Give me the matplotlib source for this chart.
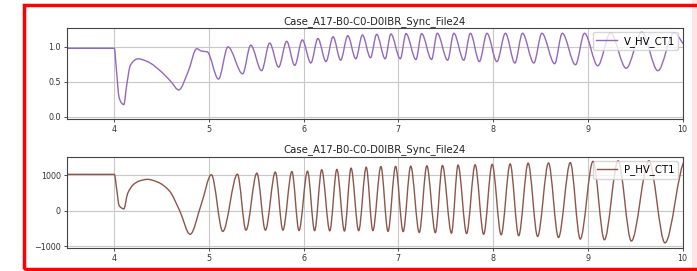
import matplotlib
matplotlib.use('Agg')
import numpy as np
from matplotlib import pyplot as plt
from matplotlib.path import Path
from matplotlib.patches import PathPatch, Rectangle
from matplotlib.lines import Line2D

title = 'Case_A17-B0-C0-D0IBR_Sync_File24'
x_ticks = [4, 5, 6, 7, 8, 9, 10]

# V_HV_CT1 key points (time, value)
v_time = [3.4, 4.0, 4.02, 4.05, 4.075, 4.10, 4.13, 4.17, 4.25, 4.35, 4.5, 4.6, 4.68, 4.78, 4.87, 4.92, 4.98,
          5.10, 5.20, 5.355, 5.44, 5.555, 5.64, 5.735, 5.82, 5.905, 5.985, 6.075, 6.15, 6.235, 6.31,
          6.39, 6.465, 6.55, 6.62, 6.705, 6.77, 6.86, 6.92, 7.02, 7.08, 7.185, 7.245, 7.35, 7.41,
          7.52, 7.585, 7.69, 7.76, 7.855, 7.935, 8.04, 8.13, 8.23, 8.31, 8.43, 8.515, 8.65, 8.73,
          8.87, 8.965, 9.105, 9.24, 9.405, 9.57, 9.74, 9.91, 10.05]
v_vals = [0.98, 0.98, 0.70, 0.28, 0.20, 0.175, 0.45, 0.74, 0.83, 0.79, 0.64, 0.50, 0.385, 0.65, 0.975, 0.94, 0.93,
          0.54, 1.00, 0.615, 1.025, 0.66, 1.055, 0.71, 1.08, 0.735, 1.10, 0.77, 1.12, 0.79, 1.145,
          0.81, 1.16, 0.83, 1.17, 0.845, 1.18, 0.83, 1.185, 0.83, 1.19, 0.82, 1.19, 0.82, 1.195,
          0.81, 1.195, 0.81, 1.195, 0.79, 1.195, 0.79, 1.195, 0.77, 1.195, 0.77, 1.195, 0.76, 1.195,
          0.745, 1.195, 0.73, 1.20, 0.695, 1.21, 0.66, 1.20, 1.0]

# P_HV_CT1 key points (time, value)
p_time = [3.4, 4.0, 4.025, 4.05, 4.075, 4.10, 4.14, 4.20, 4.27, 4.35, 4.46, 4.58, 4.69, 4.80, 4.92,
          5.025, 5.145, 5.30, 5.39, 5.505, 5.595, 5.70, 5.78, 5.875, 5.95, 6.04, 6.115,
          6.19, 6.275, 6.35, 6.43, 6.50, 6.58, 6.66, 6.73, 6.815, 6.89, 6.97, 7.05,
          7.13, 7.22, 7.30, 7.39, 7.465, 7.56, 7.63, 7.72, 7.81, 7.90, 7.99, 8.085,
          8.18, 8.27, 8.37, 8.47, 8.585, 8.69, 8.815, 8.92, 9.055, 9.175, 9.32, 9.46,
          9.645, 9.815, 10.03]
p_vals = [1020, 1020, 600, 150, 80, 50, 480, 730, 840, 880, 800, 560, 0, -660, 200,
          1010, -580, 1025, -545, 1055, -545, 1085, -545, 1100, -555, 1110, -560,
          1150, -565, 1160, -570, 1195, -560, 1220, -560, 1240, -580, 1245, -585,
          1250, -610, 1260, -615, 1270, -630, 1280, -640, 1290, -660, 1300, -675,
          1315, -700, 1335, -720, 1340, -750, 1350, -795, 1385, -815, 1400, -850,
          1400, -900, 1400]


def slopes(x, y):
    # monotone (Fritsch-Carlson) tangents, flat at the extrema
    h = np.diff(x)
    d = np.diff(y) / h
    m = np.zeros(len(x))
    for k in range(1, len(x) - 1):
        if d[k - 1] * d[k] > 0:
            w1 = 2 * h[k] + h[k - 1]
            w2 = h[k] + 2 * h[k - 1]
            m[k] = (w1 + w2) / (w1 / d[k - 1] + w2 / d[k])
    return m


def smooth_path(x, y):
    x = np.asarray(x, float)
    y = np.asarray(y, float)
    m = slopes(x, y)
    verts = [(x[0], y[0])]
    codes = [Path.MOVETO]
    for k in range(len(x) - 1):
        h = x[k + 1] - x[k]
        verts += [(x[k] + h / 3, y[k] + m[k] * h / 3),
                  (x[k + 1] - h / 3, y[k + 1] - m[k + 1] * h / 3),
                  (x[k + 1], y[k + 1])]
        codes += [Path.CURVE4] * 3
    return Path(verts, codes)


fig = plt.figure(figsize=(6.97, 2.71), dpi=100)
W, H = 697.0, 271.0

panels = [
    (v_time, v_vals, '#9467bd', 'V_HV_CT1', (28.0, 119.0), (-0.03, 1.27), [0.0, 0.5, 1.0]),
    (p_time, p_vals, '#8c564b', 'P_HV_CT1', (156.5, 247.5), (-1030, 1520), [-1000, 0, 1000]),
]

for t, v, col, name, (top, bot), ylim, yt in panels:
    ax = fig.add_axes([67 / W, 1 - bot / H, (682.5 - 67) / W, (bot - top) / H])
    ax.add_patch(PathPatch(smooth_path(t, v), fill=False, edgecolor=col, lw=1.0,
                           capstyle='round', joinstyle='round'))
    ax.set_xlim(3.5, 10)
    ax.set_ylim(*ylim)
    ax.set_xticks(x_ticks)
    ax.set_yticks(yt)
    ax.grid(True, color='#c8c8c8', lw=0.8)
    ax.set_axisbelow(True)
    ax.tick_params(labelsize=5.8, length=2.5, width=0.6, pad=2, colors='#333333')
    for s in ax.spines.values():
        s.set_color('#444444')
        s.set_linewidth(0.8)
    ax.set_title(title, fontsize=7.3, pad=3, color='#222222')
    ax.legend(handles=[Line2D([], [], color=col, lw=1.0, label=name)], loc='upper right',
              fontsize=7.3, handlelength=2.0, borderpad=0.35, labelspacing=0.3,
              handletextpad=0.7, borderaxespad=0.4, framealpha=0.8)

# red frame drawn round the screenshot
fig.add_artist(Rectangle((692 / W, 0), 5 / W, 1, transform=fig.transFigure,
                         facecolor='#ffe4e4', edgecolor='none', zorder=9))
fig.add_artist(Rectangle((23.5 / W, 1 - 269 / H), (699 - 23.5) / W, (269 - 5) / H,
                         transform=fig.transFigure, fill=False, edgecolor='#ff0000',
                         lw=2.5, zorder=10))

fig.savefig('out.png', dpi=100)
